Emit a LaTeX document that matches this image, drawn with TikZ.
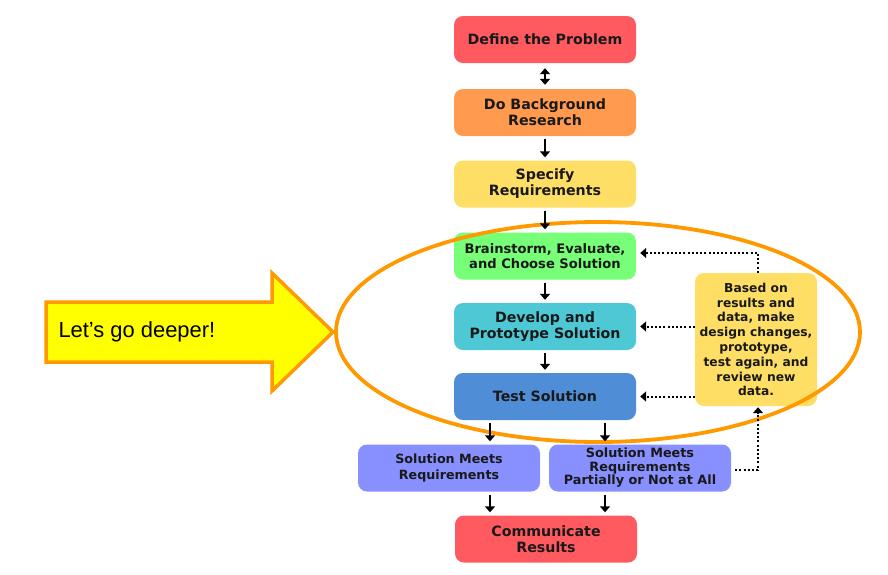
\documentclass[tikz,border=0pt]{standalone}
\usepackage{fontspec}
\setmainfont{DejaVu Sans}
\newfontfamily\arialfont{Liberation Sans}
\usetikzlibrary{arrows.meta}
\definecolor{cred}{HTML}{FF5A5F}
\definecolor{corange}{HTML}{FF9A4F}
\definecolor{cyellow}{HTML}{FFDE66}
\definecolor{cgreen}{HTML}{77FF77}
\definecolor{ccyan}{HTML}{4FC8D6}
\definecolor{cblue}{HTML}{4F8ED6}
\definecolor{cpurple}{HTML}{8890FF}
\definecolor{ring}{HTML}{FF9900}
\definecolor{bigyellow}{HTML}{FFFF00}
\tikzset{
  stepbox/.style={rounded corners=9pt, minimum width=182pt, minimum height=47pt,
    align=center, inner sep=0pt, font=\bfseries\fontsize{14.2}{16}\selectfont, text=black!90},
  tip/.tip={Triangle[length=6pt,width=10pt]},
  flow/.style={-tip, line width=2.2pt, black},
  dots/.style={-tip, line width=2pt, dash pattern=on 2pt off 2.2pt, black}
}
\begin{document}
\begin{tikzpicture}[x=1pt,y=-1pt]
\useasboundingbox (0,0) rectangle (888,574);
% boxes
\node[stepbox, fill=cred] (def) at (545,39.5) {Define the Problem};
\node[stepbox, fill=corange] (bg) at (545,112.5) {Do Background\\Research};
\node[stepbox, fill=cyellow] (spec) at (545,184) {Specify\\Requirements};
\node[stepbox, fill=cgreen, font=\bfseries\fontsize{13.1}{15}\selectfont] (brain) at (545,256) {Brainstorm, Evaluate,\\and Choose Solution};
\node[stepbox, fill=ccyan] (dev) at (545,326.5) {Develop and\\Prototype Solution};
\node[stepbox, fill=cblue] (test) at (545,396.5) {Test Solution};
\node[stepbox, fill=cpurple, font=\bfseries\fontsize{12.7}{16}\selectfont] (meets) at (449,468) {Solution Meets\\Requirements};
\node[stepbox, fill=cpurple, font=\bfseries\fontsize{12.8}{13.5}\selectfont] (part) at (640,468) {Solution Meets\\Requirements\\Partially or Not at All};
\node[stepbox, fill=cred] (comm) at (546,539) {Communicate\\Results};
\node[stepbox, fill=cyellow, minimum width=122pt, minimum height=133pt, font=\bfseries\fontsize{12.3}{14.8}\selectfont] (side) at (756,339.5) {Based on\\results and\\data, make\\design changes,\\prototype,\\test again, and\\review new\\data.};
% ring
\draw[ring, line width=3.8pt] (598,332) ellipse [x radius=262, y radius=110];
% big arrow
\draw[ring, line width=3.5pt, fill=bigyellow, line join=miter]
  (46,302) -- (272,302) -- (272,273) -- (333,332) -- (272,391) -- (272,362) -- (46,362) -- cycle;
\node[font=\arialfont\fontsize{21.9}{24}\selectfont, anchor=west] (deeper) at (55,332) {Let’s go deeper!};
% flow arrows
\draw[tip-tip, line width=2.2pt] ([yshift=-5pt]def.south) -- ([yshift=4pt]bg.north);
\draw[flow] ([yshift=-3pt]bg.south) -- ([yshift=3pt]spec.north);
\draw[flow] ([yshift=-3pt]spec.south) -- ([yshift=3pt]brain.north);
\draw[flow] ([yshift=-3pt]brain.south) -- ([yshift=3pt]dev.north);
\draw[flow] ([yshift=-3pt]dev.south) -- ([yshift=3pt]test.north);
\coordinate (tL) at (490,423);
\coordinate (tR) at (605,423);
\draw[flow] (tL) -- ([yshift=3pt]tL |- meets.north);
\draw[flow] (tR) -- ([yshift=3pt]tR |- part.north);
\draw[flow] ([yshift=-3pt]tL |- meets.south) -- ([yshift=3pt]tL |- comm.north);
\draw[flow] ([yshift=-3pt]tR |- part.south) -- ([yshift=3pt]tR |- comm.north);
% dotted feedback
\coordinate (fb) at (758,253);
\draw[dots] (side.north -| fb) -- (fb) -- ([xshift=4pt]fb -| brain.east);
\draw[dots] (side.west |- dev) -- ([xshift=4pt]dev.east);
\draw[dots] (side.west |- test) -- ([xshift=4pt]test.east);
\coordinate (fb2) at (758,470);
\draw[dots] ([xshift=4pt]part.east |- fb2) -- (fb2) -- ([yshift=-1pt]side.south -| fb2);
\end{tikzpicture}
\end{document}
